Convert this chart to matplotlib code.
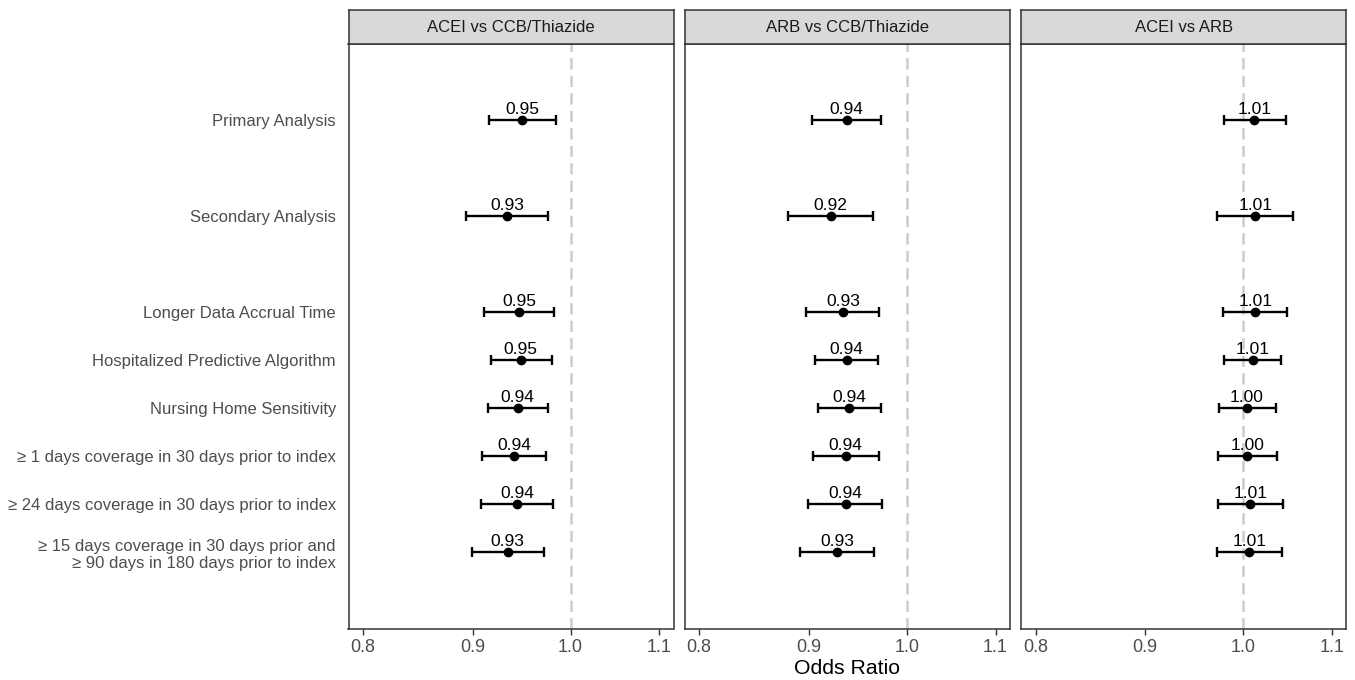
import matplotlib
matplotlib.use('Agg')
import matplotlib.pyplot as plt
import matplotlib.ticker as ticker
import numpy as np

plt.rcParams['font.family'] = ['Liberation Sans', 'DejaVu Sans']

analyses = ["Primary Analysis", "Secondary Analysis", "Longer Data Accrual Time",
            "Hospitalized Predictive Algorithm", "Nursing Home Sensitivity",
            "\u2265 1 days coverage in 30 days prior to index",
            "\u2265 24 days coverage in 30 days prior to index",
            "\u2265 15 days coverage in 30 days prior and\n\u2265 90 days in 180 days prior to index"]
comparisons = ["ACEI vs CCB/Thiazide", "ARB vs CCB/Thiazide", "ACEI vs ARB"]

acei_ccb_or = [0.9494, 0.9342, 0.9463, 0.9480, 0.9446, 0.9412, 0.9439, 0.9348]
acei_ccb_lo = [0.9163, 0.8941, 0.9113, 0.9176, 0.9152, 0.9097, 0.9084, 0.8993]
acei_ccb_hi = [0.9843, 0.9759, 0.9826, 0.9798, 0.9756, 0.9738, 0.9812, 0.9714]

arb_ccb_or = [0.9375, 0.9213, 0.9335, 0.9375, 0.9402, 0.9365, 0.9362, 0.9279]
arb_ccb_lo = [0.9033, 0.8799, 0.8973, 0.9059, 0.9091, 0.9036, 0.8995, 0.8913]
arb_ccb_hi = [0.9724, 0.9645, 0.9707, 0.9697, 0.9721, 0.9703, 0.9739, 0.9658]

acei_arb_or = [1.0122, 1.0130, 1.0130, 1.0105, 1.0040, 1.0043, 1.0076, 1.0068]
acei_arb_lo = [0.9798, 0.9727, 0.9784, 0.9801, 0.9742, 0.9732, 0.9732, 0.9724]
acei_arb_hi = [1.0470, 1.0549, 1.0485, 1.0414, 1.0354, 1.0369, 1.0440, 1.0425]

xticks = [0.8, 0.9, 1.0, 1.1]

# rows: first two analyses separated by an extra gap
ypos = np.array([0, 2, 4, 5, 6, 7, 8, 9])

W, H = 1355, 680
fig = plt.figure(figsize=(W / 100, H / 100), dpi=100)

panels = [(acei_ccb_or, acei_ccb_lo, acei_ccb_hi),
          (arb_ccb_or, arb_ccb_lo, arb_ccb_hi),
          (acei_arb_or, acei_arb_lo, acei_arb_hi)]
lefts = [348.5, 684.8, 1021.1]
pw = 325
top, bot = 44, 629
strip_top = 10

for i, (title, (orv, lo, hi)) in enumerate(zip(comparisons, panels)):
    ax = fig.add_axes([lefts[i] / W, 1 - bot / H, pw / W, (bot - top) / H])
    orv = np.array(orv); lo = np.array(lo); hi = np.array(hi)
    ax.axvline(1.0, color='#cccccc', lw=1.8, ls=(0, (4.5, 2.5)), zorder=1)
    ax.errorbar(orv, ypos, xerr=[orv - lo, hi - orv], fmt='o', color='black',
                ms=6, elinewidth=1.7, capsize=3.5, capthick=1.7, zorder=3)
    for x, y in zip(orv, ypos):
        ax.text(x, y - 0.07, "%.2f" % x, ha='center', va='bottom', fontsize=12.5, color='black')
    ax.set_xscale('log')
    ax.set_xlim(0.7877, 1.117)
    ax.set_ylim(10.6, -1.58)
    ax.xaxis.set_major_locator(ticker.FixedLocator(xticks))
    ax.xaxis.set_major_formatter(ticker.FixedFormatter(["%.1f" % t for t in xticks]))
    ax.xaxis.set_minor_locator(ticker.NullLocator())
    ax.tick_params(axis='x', labelsize=13, labelcolor='#4d4d4d', color='#333333',
                   length=4, width=1, pad=3)
    ax.set_yticks(ypos)
    if i == 0:
        ax.set_yticklabels(analyses, fontsize=12.0, color='#4d4d4d')
    else:
        ax.set_yticklabels([])
    ax.tick_params(axis='y', length=0, pad=9)
    for s in ax.spines.values():
        s.set_color('#333333')
        s.set_linewidth(1.1)

    sax = fig.add_axes([lefts[i] / W, 1 - top / H, pw / W, (top - strip_top) / H])
    sax.set_facecolor('#d9d9d9')
    sax.set_xticks([]); sax.set_yticks([])
    for s in sax.spines.values():
        s.set_color('#333333')
        s.set_linewidth(1.1)
    sax.text(0.5, 0.5, title, ha='center', va='center', fontsize=12, color='#1a1a1a',
             transform=sax.transAxes)

fig.text((lefts[1] + pw / 2) / W, 1 - 669 / H, "Odds Ratio", ha='center', va='center',
         fontsize=15.3, color='black')

fig.savefig("out.png", dpi=100)
